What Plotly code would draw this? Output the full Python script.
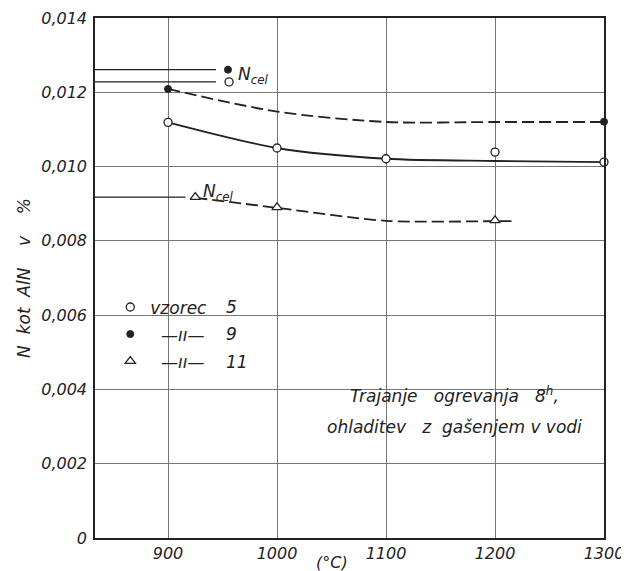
import plotly.graph_objects as go

# ---------------- data ----------------
x_range = [833, 1300]
x_ticks = [900, 1000, 1100, 1200, 1300]
x_ticktext = ["900", "1000", "1100", "1200", "1300"]
y_ticks = [0, 0.002, 0.004, 0.006, 0.008, 0.010, 0.012, 0.014]
y_ticktext = ["0", "0,002", "0,004", "0,006", "0,008", "0,010", "0,012", "0,014"]

# measured points: N bound as AlN (%)
s5_x = [900, 1000, 1100, 1200, 1300]
s5_y = [0.01119, 0.01050, 0.01021, 0.01039, 0.01012]
s9_x = [900, 1300]
s9_y = [0.01209, 0.01121]
s11_x = [1000, 1200]
s11_y = [0.00890, 0.00855]

# drawn curves
c5_x = [900, 1000, 1100, 1200, 1300]
c5_y = [0.01119, 0.01050, 0.01021, 0.01015, 0.01012]
c9_x = [900, 1000, 1100, 1200, 1300]
c9_y = [0.01209, 0.01148, 0.01120, 0.01120, 0.01120]
c11_x = [925, 1000, 1100, 1200, 1220]
c11_y = [0.00916, 0.00889, 0.00854, 0.00853, 0.00853]

# total nitrogen N_cel (vzorec 5, 9, 11)
ncel_y = [0.01228, 0.01261, 0.00918]
ncel_line_end = [944, 944, 916]
ncel_mark_x = [956, 955, 925]

legend_names = ["vzorec", "\u00a0\u00a0\u2014\u0131\u0131\u2014", "\u00a0\u00a0\u2014\u0131\u0131\u2014"]
legend_nums = ["5", "9", "11"]

INK = "#222222"
FONT = "DejaVu Sans"

m5 = dict(symbol="circle", size=8, color="white", line=dict(color=INK, width=1.3))
m9 = dict(symbol="circle", size=7, color=INK, line=dict(color=INK, width=1))
m11 = dict(symbol="triangle-up", size=9, color="white", line=dict(color=INK, width=1.3))
markers = [m5, m9, m11]

fig = go.Figure()

# curves
fig.add_trace(go.Scatter(x=c5_x, y=c5_y, mode="lines", line=dict(color=INK, width=1.8, shape="spline", smoothing=0.8),
                         showlegend=False, hoverinfo="skip"))
fig.add_trace(go.Scatter(x=c9_x, y=c9_y, mode="lines", line=dict(color=INK, width=1.8, shape="spline", smoothing=0.8, dash="12px,5px"),
                         showlegend=False, hoverinfo="skip"))
fig.add_trace(go.Scatter(x=c11_x, y=c11_y, mode="lines", line=dict(color=INK, width=1.8, shape="spline", smoothing=0.8, dash="12px,5px"),
                         showlegend=False, hoverinfo="skip"))

# N_cel reference lines and marks
for i in range(3):
    fig.add_trace(go.Scatter(x=[x_range[0], ncel_line_end[i]], y=[ncel_y[i], ncel_y[i]], mode="lines",
                             line=dict(color=INK, width=1.3), showlegend=False, hoverinfo="skip"))
    fig.add_trace(go.Scatter(x=[ncel_mark_x[i]], y=[ncel_y[i]], mode="markers", marker=markers[i],
                             showlegend=False, cliponaxis=False))

# measured points
fig.add_trace(go.Scatter(x=s5_x, y=s5_y, mode="markers", marker=m5, showlegend=False, cliponaxis=False))
fig.add_trace(go.Scatter(x=s9_x, y=s9_y, mode="markers", marker=m9, showlegend=False, cliponaxis=False))
fig.add_trace(go.Scatter(x=s11_x, y=s11_y, mode="markers", marker=m11, showlegend=False, cliponaxis=False))

# legend entries
for i in range(3):
    fig.add_trace(go.Scatter(x=[None], y=[None], mode="markers", marker=markers[i], name=legend_names[i],
                             legendgroup="g%d" % i, showlegend=True))

annotations = [
    dict(text="N<sub>cel</sub>", x=962, y=0.01244, xref="x", yref="y", xanchor="left", yanchor="middle",
         showarrow=False, font=dict(size=17)),
    dict(text="N<sub>cel</sub>", x=930, y=0.00930, xref="x", yref="y", xanchor="left", yanchor="middle",
         showarrow=False, font=dict(size=17)),
    dict(text="Trajanje\u00a0\u00a0 ogrevanja\u00a0\u00a0 8<sup>h</sup>,", x=0.707, y=0.275, xref="paper", yref="paper",
         xanchor="center", yanchor="middle", showarrow=False, font=dict(size=17)),
    dict(text="ohladitev\u00a0\u00a0 z\u00a0 gašenjem v vodi", x=0.706, y=0.213, xref="paper", yref="paper",
         xanchor="center", yanchor="middle", showarrow=False, font=dict(size=17)),
    dict(text="(°C)", x=0.466, y=-0.048, xref="paper", yref="paper", xanchor="center", yanchor="middle",
         showarrow=False, font=dict(size=16)),
]
num_y = [0.444, 0.392, 0.338]
for i in range(3):
    annotations.append(dict(text=legend_nums[i], x=0.253, y=num_y[i], xref="paper", yref="paper",
                            xanchor="left", yanchor="middle", showarrow=False, font=dict(size=17)))

shapes = [
    dict(type="rect", xref="paper", yref="paper", x0=0.043, x1=0.352, y0=0.285, y1=0.487,
         fillcolor="white", line=dict(width=0), layer="between"),
    dict(type="rect", xref="paper", yref="paper", x0=0.462, x1=0.959, y0=0.173, y1=0.313,
         fillcolor="white", line=dict(width=0), layer="between"),
]

# the page body has an 8px margin: figure origin sits at (8, 8)
fig.update_layout(
    width=621, height=563,
    margin=dict(l=87, r=25, t=10, b=33),
    paper_bgcolor="white", plot_bgcolor="white",
    font=dict(family=FONT, size=16, color=INK, style="italic"),
    showlegend=True,
    legend=dict(x=0.03, y=0.478, xanchor="left", yanchor="top", bgcolor="rgba(0,0,0,0)",
                font=dict(size=17), traceorder="grouped", tracegroupgap=2),
    annotations=annotations,
    shapes=shapes,
)
fig.update_xaxes(range=x_range, tickvals=x_ticks, ticktext=x_ticktext, showgrid=True, gridcolor="#777777",
                 gridwidth=1, showline=True, linecolor=INK, linewidth=1.5, mirror=True, zeroline=False,
                 ticks="", ticklabelstandoff=0, tickfont=dict(size=16), automargin=False)
fig.update_yaxes(range=[0, 0.014], tickvals=y_ticks, ticktext=y_ticktext, showgrid=True, gridcolor="#777777",
                 gridwidth=1, showline=True, linecolor=INK, linewidth=1.5, mirror=True, zeroline=False,
                 ticks="", ticklabelstandoff=3, tickfont=dict(size=16), automargin=False,
                 title=dict(text="N\u00a0 kot\u00a0 AlN\u00a0\u00a0\u00a0 v\u00a0\u00a0\u00a0 %", font=dict(size=17), standoff=6))

fig.write_html("out.html")
